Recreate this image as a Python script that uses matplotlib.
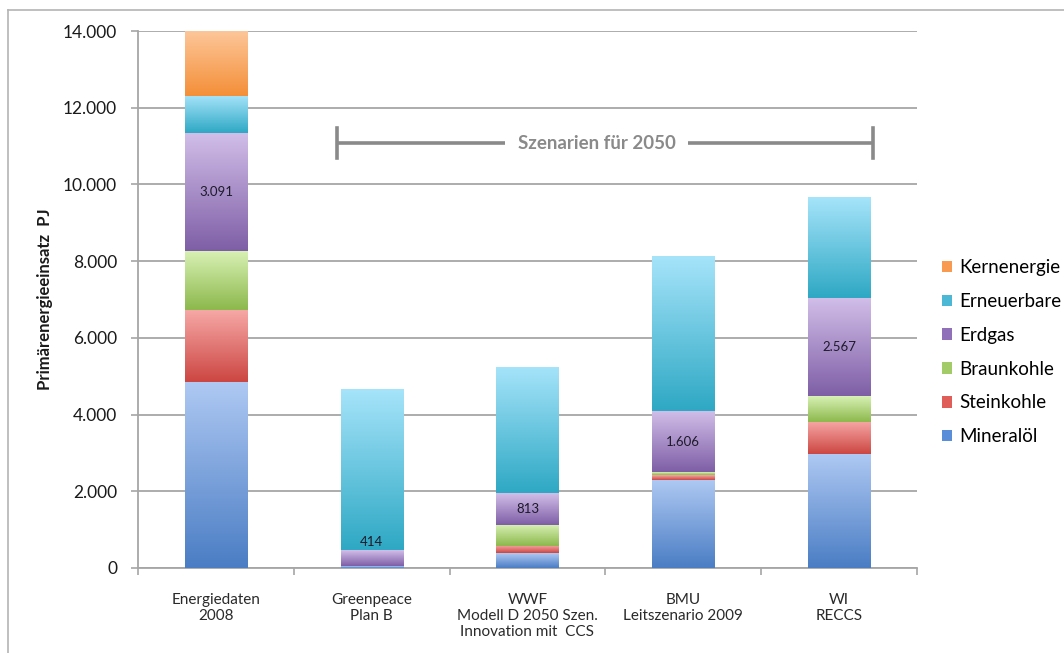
import numpy as np
import matplotlib
matplotlib.use('Agg')
import matplotlib.pyplot as plt
from matplotlib.colors import LinearSegmentedColormap
from matplotlib.patches import Patch
from matplotlib.lines import Line2D

plt.rcParams['font.family'] = ['Lato', 'DejaVu Sans']

# ---------------- data ----------------
categories = ["Energiedaten\n2008", "Greenpeace\nPlan B",
              "WWF\nModell D 2050 Szen.\nInnovation mit  CCS",
              "BMU\nLeitszenario 2009", "WI\nRECCS"]
series_names = ["Mineralöl", "Steinkohle", "Braunkohle", "Erdgas", "Erneuerbare", "Kernenergie"]
mineraloel = [4850, 50, 380, 2300, 2975]
steinkohle = [1870, 0, 200, 130, 835]
braunkohle = [1535, 0, 550, 60, 670]
erdgas = [3091, 414, 813, 1606, 2567]
erneuerbare = [970, 4195, 3300, 4030, 2620]
kernenergie = [1680, 0, 0, 0, 0]
erdgas_labels = ["3.091", "414", "813", "1.606", "2.567"]
yticks = [0, 2000, 4000, 6000, 8000, 10000, 12000, 14000]
ytick_labels = ["0", "2.000", "4.000", "6.000", "8.000", "10.000", "12.000", "14.000"]
ylabel = "Primärenergieeinsatz  PJ"
bracket_text = "Szenarien für 2050"

series_values = [mineraloel, steinkohle, braunkohle, erdgas, erneuerbare, kernenergie]
# (top colour, bottom colour) for gradient fills, legend colour
grad_colors = [("#afc9f3", "#4a7dc4"),
               ("#f6a8a6", "#cc4642"),
               ("#d8f1b4", "#8cb84c"),
               ("#d2bfe9", "#7e5ea6"),
               ("#a6e4fa", "#2ea8c4"),
               ("#fdc699", "#f48f38")]
legend_colors = ["#5a8ed8", "#e05e5a", "#a3cb68", "#9070b8", "#4cb8d6", "#f89a50"]

# ---------------- figure ----------------
fig = plt.figure(figsize=(10.64, 6.53), dpi=100)
ax = fig.add_axes([138 / 1064, 85 / 653, (917 - 138) / 1064, (568 - 31) / 653])

x = np.arange(len(categories))
width = 0.40
bottom = np.zeros(len(categories))
grad = np.linspace(0, 1, 256).reshape(-1, 1)
for vals, (ctop, cbot) in zip(series_values, grad_colors):
    vals = np.array(vals, dtype=float)
    bars = ax.bar(x, vals, width, bottom=bottom, color=cbot, edgecolor='none', zorder=3)
    cmap = LinearSegmentedColormap.from_list('g', [cbot, ctop])
    for rect in bars:
        if rect.get_height() <= 0:
            continue
        x0, y0 = rect.get_x(), rect.get_y()
        x1, y1 = x0 + rect.get_width(), y0 + rect.get_height()
        im = ax.imshow(grad, extent=(x0, x1, y0, y1), aspect='auto', cmap=cmap,
                       origin='lower', zorder=3.5, interpolation='bilinear')
        im.set_clip_path(rect)
    bottom += vals

# Erdgas labels
erdgas_bottom = np.array(mineraloel) + np.array(steinkohle) + np.array(braunkohle)
for i, (b, v, lab) in enumerate(zip(erdgas_bottom, erdgas, erdgas_labels)):
    if v < 600:
        ax.text(x[i], b + v + 60, lab, ha='center', va='bottom', fontsize=9.5,
                color='#1e1a2a', zorder=5)
    else:
        ax.text(x[i], b + v / 2, lab, ha='center', va='center', fontsize=9.5,
                color='#1e1a2a', zorder=5)

# axes styling
ax.set_xlim(-0.5, 4.5)
ax.set_ylim(0, 14000)
ax.set_yticks(yticks)
ax.set_yticklabels(ytick_labels)
ax.yaxis.grid(True, color='#a6a6a6', linewidth=1.3, zorder=0)
ax.set_axisbelow(True)
for s in ['top', 'right']:
    ax.spines[s].set_visible(False)
for s in ['left', 'bottom']:
    ax.spines[s].set_color('#a6a6a6')
    ax.spines[s].set_linewidth(1.3)
ax.tick_params(axis='y', length=5, width=1.2, color='#a6a6a6', labelsize=12.5,
               labelcolor='#1a1a1a', pad=10)
ax.set_xticks(x)
ax.set_xticklabels(categories, fontsize=11, color='#2a2a2a', linespacing=1.2)
ax.tick_params(axis='x', which='major', length=0, pad=18)
ax.set_xticks(np.arange(-0.5, 5.0, 1.0), minor=True)
ax.tick_params(axis='x', which='minor', length=5, width=1.2, color='#a6a6a6')
ax.set_ylabel(ylabel, fontsize=12, fontweight='bold', color='#1a1a1a', labelpad=7)

# bracket "Szenarien für 2050"
yb = 11080
cap = 380
bcol = '#8a8a8a'
ax.plot([0.78, 1.855], [yb, yb], color=bcol, lw=2.6, solid_capstyle='butt', zorder=4)
ax.plot([3.03, 4.22], [yb, yb], color=bcol, lw=2.6, solid_capstyle='butt', zorder=4)
ax.plot([0.78, 0.78], [yb - cap, yb + cap], color=bcol, lw=2.6, zorder=4)
ax.plot([4.22, 4.22], [yb - cap, yb + cap], color=bcol, lw=2.6, zorder=4)
ax.text(2.443, yb, bracket_text, ha='center', va='center', fontsize=13.5,
        fontweight='bold', color=bcol, zorder=4)

# legend
handles = [Patch(facecolor=c, edgecolor='none', label=n)
           for n, c in zip(series_names, legend_colors)][::-1]
fig.legend(handles=handles, loc='upper left', bbox_to_anchor=(942 / 1064, 1 - 259 / 653),
           frameon=False, fontsize=13.5, handlelength=0.55, handleheight=0.55,
           handletextpad=0.35, labelspacing=0.9, borderaxespad=0, borderpad=0)

# outer frame (top and left edges)
fig.add_artist(Line2D([8 / 1064, 1.0], [1 - 10 / 653, 1 - 10 / 653],
                      transform=fig.transFigure, color='#b4b4b4', lw=1.2))
fig.add_artist(Line2D([8 / 1064, 8 / 1064], [0.0, 1 - 10 / 653],
                      transform=fig.transFigure, color='#b4b4b4', lw=1.2))

fig.savefig('out.png', dpi=100)
